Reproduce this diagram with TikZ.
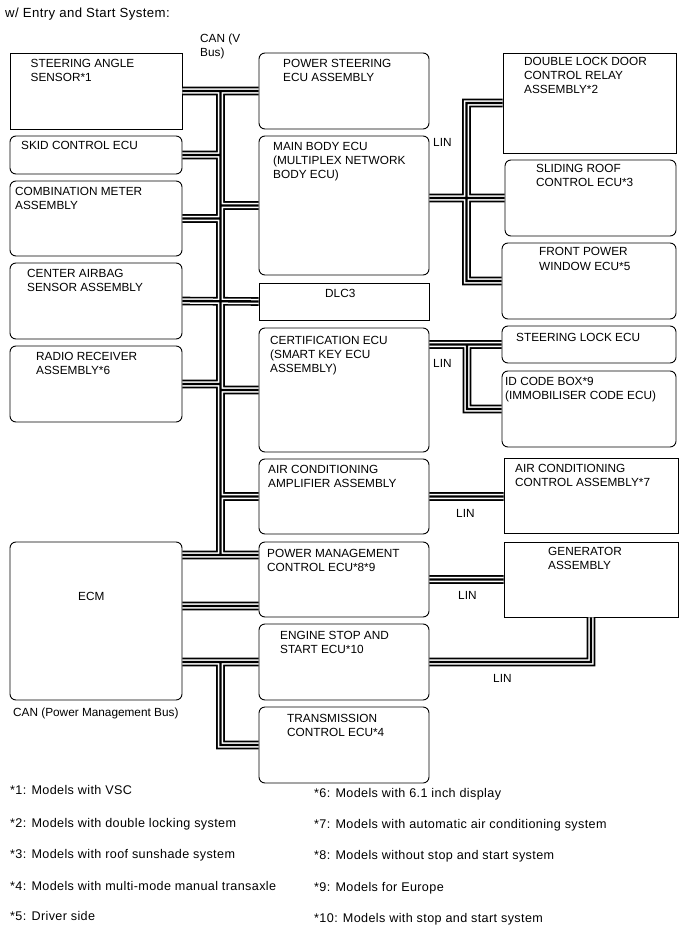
\documentclass[tikz,border=0pt]{standalone}
\usepackage{fontspec}
\setmainfont{Liberation Sans}
\newfontfamily\notefont[LetterSpace=3]{Liberation Sans}
\usepackage{tikz}

\tikzset{
  ecu/.style={draw, line width=0.9, rounded corners=6, inner sep=0},
  unit/.style={draw, line width=0.9, inner sep=0},
  lbl/.style={anchor=base west, align=left, inner sep=0, font=\fontsize{11.8}{14}\selectfont},
  note/.style={anchor=base west, inner sep=0, font=\notefont\fontsize{12.6}{14}\selectfont},
}

\begin{document}
\begin{tikzpicture}[x=1pt, y=-1pt]
	\useasboundingbox (0,0) rectangle (688,949);
	% Boxes:
	\node[unit, minimum width=172, minimum height=76] (sas) at (96, 91){};
	\node[ecu, minimum width=172, minimum height=38] (skid) at (96, 155){};
	\node[ecu, minimum width=172, minimum height=75] (cmb) at (96, 218.5){};
	\node[ecu, minimum width=172, minimum height=76] (cab) at (96, 301){};
	\node[ecu, minimum width=172, minimum height=76] (rad) at (96, 384){};
	\node[ecu, minimum width=172, minimum height=158] (ecm) at (96, 621){};
	\node[ecu, minimum width=170, minimum height=76] (ps) at (344, 91){};
	\node[ecu, minimum width=170, minimum height=139] (mb) at (344, 205.5){};
	\node[unit, minimum width=170, minimum height=37] (dlc) at (344, 301.5){};
	\node[ecu, minimum width=170, minimum height=124] (cert) at (344, 390){};
	\node[ecu, minimum width=170, minimum height=75] (aca) at (344, 496.5){};
	\node[ecu, minimum width=170, minimum height=75] (pm) at (344, 579.5){};
	\node[ecu, minimum width=170, minimum height=76] (es) at (344, 662){};
	\node[ecu, minimum width=170, minimum height=76] (tcu) at (344, 745){};
	\node[unit, minimum width=173, minimum height=100] (dlr) at (589.5, 103){};
	\node[ecu, minimum width=171, minimum height=76] (sr) at (590.5, 198){};
	\node[ecu, minimum width=174, minimum height=76] (fpw) at (589, 281){};
	\node[ecu, minimum width=174, minimum height=37] (sl) at (589, 344.5){};
	\node[ecu, minimum width=174, minimum height=76] (idc) at (589, 409){};
	\node[unit, minimum width=174, minimum height=75] (acc) at (591, 495.5){};
	\node[unit, minimum width=174, minimum height=75] (gen) at (591, 579.5){};
	\coordinate (can) at (220.5, 0);
	\coordinate (lina) at (466.5, 0);
	\coordinate (linb) at (467, 0);
	% Bus wires, drawn in three passes:
	\foreach \w/\c in {8.6/black, 5.4/white, 2.4/black}{
		\draw[line width=\w, \c] (sas.east) -- (ps.west)
			(can |- sas.east) -- (can |- 0,555)
			(skid.east) -- (can |- skid.east)
			(cmb.east) -- (can |- cmb.east)
			(mb.west) -- (can |- mb.west)
			(cab.east) -- (dlc.west)
			(rad.east) -- (can |- rad.east)
			(cert.west) -- (can |- cert.west)
			(aca.west) -- (can |- aca.west)
			(ecm.east |- 0,555) -- (pm.west |- 0,555)
			(ecm.east |- 0,606) -- (pm.west |- 0,606)
			(ecm.east |- es.west) -- (es.west)
			(es.west -| can) |- (tcu.west)
			(mb.east |- sr.west) -- (sr.west)
			(dlr.west) -| (lina |- fpw.west) -- (fpw.west)
			(cert.east |- sl.west) -- (sl.west)
			(linb |- sl.west) |- (idc.west)
			(aca.east) -- (acc.west |- aca.east)
			(pm.east) -- (gen.west)
			(es.east) -| (gen.south);
	}
	% Texts (base = last line):
	\node[anchor=base west, inner sep=0, font=\notefont\fontsize{13.2}{15}\selectfont] (title) at (5, 18){w/ Entry and Start System:};
	\node[lbl] (canv) at (200, 57){CAN (V\\Bus)};
	\node[lbl] (sasT) at (30.5, 82){STEERING ANGLE\\SENSOR*1};
	\node[lbl] (skidT) at (21, 150){SKID CONTROL ECU};
	\node[lbl] (cmbT) at (15, 210){COMBINATION METER\\ASSEMBLY};
	\node[lbl] (cabT) at (27, 291){CENTER AIRBAG\\SENSOR ASSEMBLY};
	\node[lbl] (radT) at (36, 374){RADIO RECEIVER\\ASSEMBLY*6};
	\node[lbl] (ecmT) at (78, 600){ECM};
	\node[lbl] (canpm) at (13, 716){CAN (Power Management Bus)};
	\node[lbl] (psT) at (283, 82){POWER STEERING\\ECU ASSEMBLY};
	\node[lbl] (mbT) at (273, 179){MAIN BODY ECU\\(MULTIPLEX NETWORK\\BODY ECU)};
	\node[lbl] (dlcT) at (325, 297){DLC3};
	\node[lbl] (certT) at (270, 372){CERTIFICATION ECU\\(SMART KEY ECU\\ASSEMBLY)};
	\node[lbl] (acaT) at (268, 487){AIR CONDITIONING\\AMPLIFIER ASSEMBLY};
	\node[lbl] (pmT) at (267, 571){POWER MANAGEMENT\\CONTROL ECU*8*9};
	\node[lbl] (esT) at (280, 653){ENGINE STOP AND\\START ECU*10};
	\node[lbl] (tcuT) at (287, 736){TRANSMISSION\\CONTROL ECU*4};
	\node[lbl] (dlrT) at (524, 94){DOUBLE LOCK DOOR\\CONTROL RELAY\\ASSEMBLY*2};
	\node[lbl] (srT) at (536, 187){SLIDING ROOF\\CONTROL ECU*3};
	\node[lbl] (fpwT) at (539, 270){FRONT POWER\\WINDOW ECU*5};
	\node[lbl] (slT) at (516, 341){STEERING LOCK ECU};
	\node[lbl] (idcT) at (505, 399){ID CODE BOX*9\\(IMMOBILISER CODE ECU)};
	\node[lbl] (accT) at (515, 486){AIR CONDITIONING\\CONTROL ASSEMBLY*7};
	\node[lbl] (genT) at (548, 569){GENERATOR\\ASSEMBLY};
	\node[lbl] (lin1) at (433, 147){LIN};
	\node[lbl] (lin2) at (433, 367){LIN};
	\node[lbl] (lin3) at (456, 517){LIN};
	\node[lbl] (lin4) at (458, 599){LIN};
	\node[lbl] (lin5) at (493, 682){LIN};
	% Notes:
	\node[note] (n1) at (10, 794){*1: Models with VSC};
	\node[note] (n2) at (10, 827){*2: Models with double locking system};
	\node[note] (n3) at (10, 858){*3: Models with roof sunshade system};
	\node[note] (n4) at (10, 890){*4: Models with multi-mode manual transaxle};
	\node[note] (n5) at (10, 920){*5: Driver side};
	\node[note] (n6) at (314, 797){*6: Models with 6.1 inch display};
	\node[note] (n7) at (314, 828){*7: Models with automatic air conditioning system};
	\node[note] (n8) at (314, 859){*8: Models without stop and start system};
	\node[note] (n9) at (314, 891){*9: Models for Europe};
	\node[note] (n10) at (314, 922){*10: Models with stop and start system};
\end{tikzpicture}
\end{document}
